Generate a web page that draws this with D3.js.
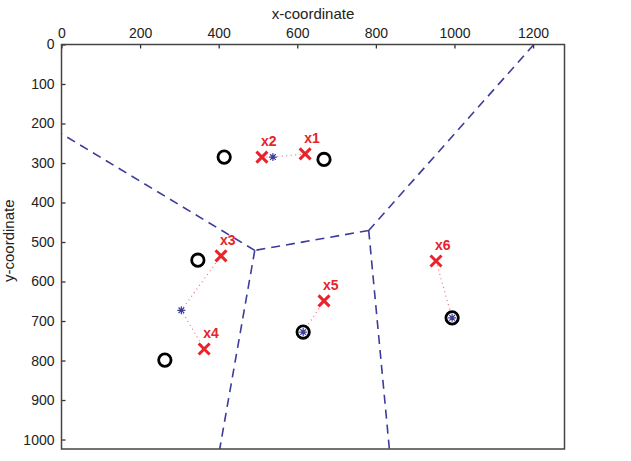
<!DOCTYPE html>
<html>
<head>
<meta charset="utf-8">
<script src="https://cdn.jsdelivr.net/npm/d3@7"></script>
<style>
  body { margin: 0; background: #fff; }
  text { font-family: "Liberation Sans", Arial, sans-serif; }
</style>
</head>
<body>
<div id="chart"></div>
<script>
// data points (image coordinates, y grows downward)
var pointLabels = ["x1", "x2", "x3", "x4", "x5", "x6"];
var pointX = [620, 510, 406, 363, 668, 953];
var pointY = [277, 285, 535, 771, 649, 548];
var circleX = [414, 668, 347, 263, 615, 994];
var circleY = [285, 291, 546, 799, 728, 692];
var centroidX = [538, 305, 615, 994];
var centroidY = [285, 673, 728, 692];
var assign = [0, 0, 1, 1, 2, 3];
var xTicks = [0, 200, 400, 600, 800, 1000, 1200];
var yTicks = [0, 100, 200, 300, 400, 500, 600, 700, 800, 900, 1000];
var xMax = 1280, yMax = 1024;

var W = 631, H = 461;
var padL = 61.5, padT = 44.5, padR = 564.5, padB = 449;

var svg = d3.select('#chart').append('svg')
    .attr('width', W)
    .attr('height', H);

var x = d3.scaleLinear().domain([0, xMax]).range([padL, padR]);
var y = d3.scaleLinear().domain([0, yMax]).range([padT, padB]);

var blue = '#3c3c9c';
var red = '#e8232b';

// voronoi of the centroids
var cents = centroidX.map(function(d, i) { return [d, centroidY[i]]; });
var vor = d3.Delaunay.from(cents).voronoi([0, 0, xMax, yMax]);
var seen = {};
var edges = [];
function onBound(a, b) {
    var e = 1e-6;
    return (Math.abs(a[0]) < e && Math.abs(b[0]) < e) ||
        (Math.abs(a[0] - xMax) < e && Math.abs(b[0] - xMax) < e) ||
        (Math.abs(a[1]) < e && Math.abs(b[1]) < e) ||
        (Math.abs(a[1] - yMax) < e && Math.abs(b[1] - yMax) < e);
}
for (var i = 0; i < cents.length; i++) {
    var poly = vor.cellPolygon(i);
    for (var k = 0; k < poly.length - 1; k++) {
        var a = poly[k], b = poly[k + 1];
        if (onBound(a, b)) continue;
        var key = [a, b].map(function(p) { return p[0].toFixed(2) + ',' + p[1].toFixed(2); }).sort().join('|');
        if (seen[key]) continue;
        seen[key] = true;
        edges.push([a, b]);
    }
}

var plot = svg.append('g');

plot.selectAll('.vor')
    .data(edges)
    .enter()
    .append('line')
    .attr('x1', function(d) { return x(d[0][0]); })
    .attr('y1', function(d) { return y(d[0][1]); })
    .attr('x2', function(d) { return x(d[1][0]); })
    .attr('y2', function(d) { return y(d[1][1]); })
    .attr('stroke', blue)
    .attr('stroke-width', 1.6)
    .attr('stroke-dasharray', '9,6');

// dotted links from points to centroids
plot.selectAll('.link')
    .data(pointX)
    .enter()
    .append('line')
    .attr('x1', function(d) { return x(d); })
    .attr('y1', function(d, i) { return y(pointY[i]); })
    .attr('x2', function(d, i) { return x(centroidX[assign[i]]); })
    .attr('y2', function(d, i) { return y(centroidY[assign[i]]); })
    .attr('stroke', '#f0707a')
    .attr('stroke-width', 1.2)
    .attr('stroke-dasharray', '1,3.5');

// circles
plot.selectAll('.circ')
    .data(circleX)
    .enter()
    .append('circle')
    .attr('cx', function(d) { return x(d); })
    .attr('cy', function(d, i) { return y(circleY[i]); })
    .attr('r', 6.2)
    .attr('fill', 'none')
    .attr('stroke', '#000')
    .attr('stroke-width', 2.8);

// red crosses
var s = 5.5;
plot.selectAll('.cross')
    .data(pointX)
    .enter()
    .append('path')
    .attr('d', function(d, i) {
        var cx = x(d), cy = y(pointY[i]);
        return 'M' + (cx - s) + ',' + (cy - s) + 'L' + (cx + s) + ',' + (cy + s) +
            'M' + (cx - s) + ',' + (cy + s) + 'L' + (cx + s) + ',' + (cy - s);
    })
    .attr('stroke', red)
    .attr('stroke-width', 3)
    .attr('fill', 'none');

// centroid asterisks
var r = 4;
plot.selectAll('.star')
    .data(centroidX)
    .enter()
    .append('path')
    .attr('d', function(d, i) {
        var cx = x(d), cy = y(centroidY[i]);
        var p = '';
        for (var a = 0; a < 4; a++) {
            var ang = a * Math.PI / 4;
            var dx = r * Math.cos(ang), dy = r * Math.sin(ang);
            p += 'M' + (cx - dx) + ',' + (cy - dy) + 'L' + (cx + dx) + ',' + (cy + dy);
        }
        return p;
    })
    .attr('stroke', blue)
    .attr('stroke-width', 1.2)
    .attr('fill', 'none');

// point labels
plot.selectAll('.lab')
    .data(pointLabels)
    .enter()
    .append('text')
    .attr('x', function(d, i) { return x(pointX[i]) - 1; })
    .attr('y', function(d, i) { return y(pointY[i]) - 11; })
    .attr('fill', red)
    .attr('font-size', '14px')
    .attr('font-weight', 'bold')
    .text(function(d) { return d; });

// axes
var fmt = d3.format('d');
svg.append('g')
    .attr('transform', 'translate(0,' + padT + ')')
    .call(d3.axisTop(x).tickValues(xTicks).tickFormat(fmt).tickSizeInner(-4).tickSizeOuter(0).tickPadding(7))
    .call(function(g) {
        g.select('.domain').remove();
        g.selectAll('line').attr('stroke', '#333').attr('stroke-width', 1.3);
        g.selectAll('text').attr('font-size', '14px').attr('fill', '#222')
            .attr('font-family', '"Liberation Sans", Arial, sans-serif');
    });

svg.append('g')
    .attr('transform', 'translate(' + padL + ',0)')
    .call(d3.axisLeft(y).tickValues(yTicks).tickFormat(fmt).tickSizeInner(-4).tickSizeOuter(0).tickPadding(7))
    .call(function(g) {
        g.select('.domain').remove();
        g.selectAll('line').attr('stroke', '#333').attr('stroke-width', 1.3);
        g.selectAll('text').attr('font-size', '14px').attr('fill', '#222')
            .attr('font-family', '"Liberation Sans", Arial, sans-serif');
    });

// frame
svg.append('rect')
    .attr('x', padL)
    .attr('y', padT)
    .attr('width', padR - padL)
    .attr('height', padB - padT)
    .attr('fill', 'none')
    .attr('stroke', '#444')
    .attr('stroke-width', 1.5);

svg.append('text')
    .attr('x', (padL + padR) / 2)
    .attr('y', 19)
    .attr('text-anchor', 'middle')
    .attr('font-size', '15px')
    .attr('fill', '#222')
    .text('x-coordinate');

svg.append('text')
    .attr('transform', 'translate(14,' + ((padT + padB) / 2 - 6) + ') rotate(-90)')
    .attr('text-anchor', 'middle')
    .attr('font-size', '15px')
    .attr('fill', '#222')
    .text('y-coordinate');
</script>
</body>
</html>
